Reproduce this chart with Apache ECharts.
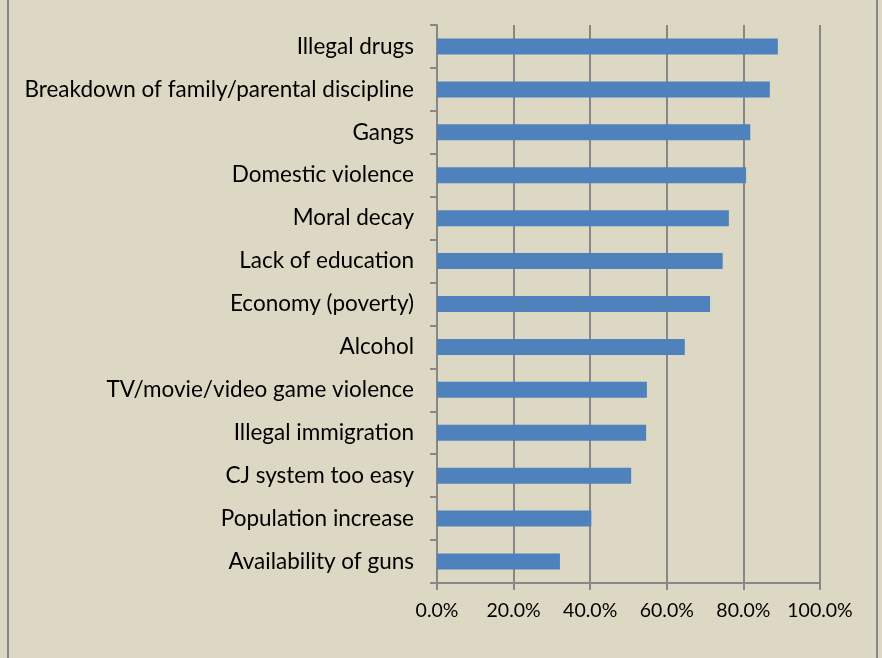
<!DOCTYPE html>
<html><head><meta charset="utf-8">
<script src="https://cdn.jsdelivr.net/npm/echarts@6/dist/echarts.min.js"></script>
<style>html,body{margin:0;padding:0;background:#DDD8C3;}#c{width:882px;height:658px;}</style>
</head><body><div id="c"></div>
<script>
const categories = ["Illegal drugs","Breakdown of family/parental discipline","Gangs","Domestic violence","Moral decay","Lack of education","Economy (poverty)","Alcohol","TV/movie/video game violence","Illegal immigration","CJ system too easy","Population increase","Availability of guns"];
const values = [0.890,0.869,0.818,0.807,0.762,0.746,0.713,0.647,0.548,0.546,0.507,0.403,0.321];
const xTicks = [0,0.2,0.4,0.6,0.8,1.0];

const chart = echarts.init(document.getElementById('c'));
const grey = '#878787';
chart.setOption({
  backgroundColor: '#DDD8C3',
  animation: false,
  graphic: [{type:'rect', shape:{x:8,y:-10,width:869,height:690}, style:{fill:'none', stroke:grey, lineWidth:2}, z:-1}],
  grid: {left:437, right:62, top:25, bottom:75, containLabel:false},
  xAxis: {
    type:'value', min:xTicks[0], max:xTicks[xTicks.length-1], interval:0.2,
    axisLine:{show:true, lineStyle:{color:grey, width:2}},
    axisTick:{show:true, length:7, lineStyle:{color:grey, width:2}},
    splitLine:{show:true, lineStyle:{color:grey, width:2}},
    axisLabel:{formatter:v=>(v*100).toFixed(1)+'%', color:'#000', fontFamily:'Lato', fontSize:19.5, margin:18}
  },
  yAxis: {
    type:'category', data:categories, inverse:true,
    axisLine:{show:true, lineStyle:{color:grey, width:2}},
    axisTick:{show:true, length:7, lineStyle:{color:grey, width:2}},
    axisLabel:{color:'#000', fontFamily:'Lato', fontSize:22.5, margin:23}
  },
  series: [{type:'bar', data:values, barWidth:16, itemStyle:{color:'#4F81BD'}}]
});
</script></body></html>
